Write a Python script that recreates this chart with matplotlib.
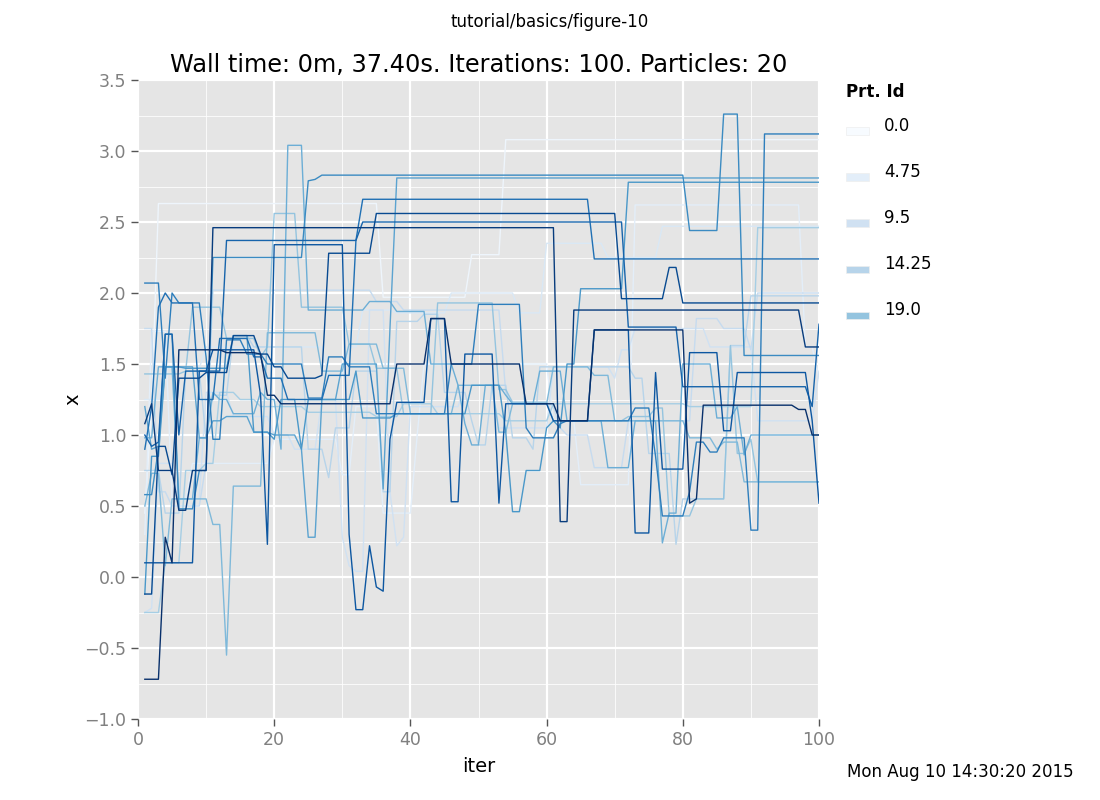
import numpy as np
import matplotlib.pyplot as plt
from matplotlib.ticker import MultipleLocator
from matplotlib.patches import Rectangle

# iterations 1..100, each particle given as (iter, x) change points (value held until next point)
iters = np.arange(1, 101)

prt_0 = [(1, 0.45), (2, 1.2), (3, 2.63), (35, 2.63), (36, 1.97), (48, 1.97), (49, 2.27), (53, 2.27),
         (54, 3.08), (100, 3.08)]
prt_1 = [(1, 0.3), (2, 1.73), (4, 1.73), (5, 0.55), (7, 0.55), (8, 0.8), (19, 0.8), (20, 0.97), (29, 0.97),
         (30, 0.72), (32, 1.2), (35, 1.2), (36, 0.45), (39, 0.45), (41, 1.0), (42, 1.5), (60, 1.5), (61, 1.1),
         (64, 1.1), (65, 0.65), (72, 0.65), (73, 2.62), (97, 2.62), (98, 1.62), (100, 1.4)]
prt_2 = [(1, 1.25), (3, 1.25), (4, 1.47), (9, 1.47), (10, 1.62), (27, 1.62), (28, 1.42), (30, 1.42),
         (31, 1.62), (33, 1.88), (37, 1.88), (38, 1.86), (45, 1.86), (46, 2.0), (54, 2.0), (56, 1.86),
         (59, 1.86), (60, 2.35), (68, 2.35), (69, 2.25), (76, 2.25), (77, 2.47), (100, 2.47)]
prt_3 = [(1, -0.25), (2, -0.22), (3, 0.8), (5, 0.8), (6, 0.55), (9, 0.55), (10, 1.3), (13, 1.3), (14, 1.13),
         (19, 1.13), (20, 1.0), (22, 1.0), (23, 0.9), (26, 0.9), (27, 1.25), (29, 1.25), (30, 0.28), (31, 0.08),
         (32, 0.04), (33, 0.04), (34, 1.88), (36, 1.88), (37, 0.6), (38, 0.22), (39, 0.28), (40, 1.2),
         (47, 1.2), (48, 1.35), (52, 1.35), (53, 1.05), (60, 1.05), (61, 1.48), (69, 1.48), (70, 1.4),
         (71, 1.6), (73, 1.75), (83, 1.75), (84, 1.62), (89, 1.62), (91, 1.1), (96, 1.1), (100, 1.45)]
prt_4 = [(1, 1.75), (2, 1.75), (3, 0.6), (4, 0.6), (5, 0.5), (9, 0.5), (10, 0.8), (11, 2.02), (33, 2.02),
         (35, 1.94), (38, 1.94), (39, 1.88), (53, 1.88), (54, 1.3), (55, 1.23), (60, 1.23), (61, 1.2),
         (62, 1.05), (63, 1.0), (66, 1.0), (67, 0.77), (70, 0.77), (72, 1.1), (81, 1.1), (82, 1.82),
         (85, 1.82), (86, 1.75), (89, 1.75), (90, 1.6), (91, 2.0), (100, 2.0)]
prt_5 = [(1, 0.75), (3, 0.75), (4, 0.45), (6, 0.45), (7, 1.45), (9, 1.45), (10, 0.97), (11, 1.28),
         (13, 1.28), (14, 1.7), (16, 1.7), (17, 1.62), (24, 1.62), (25, 0.9), (27, 0.9), (28, 0.7),
         (29, 1.05), (31, 1.05), (32, 1.45), (35, 1.45), (36, 0.6), (37, 0.6), (38, 1.8), (41, 1.8),
         (42, 1.85), (44, 1.85), (45, 1.3), (48, 1.3), (49, 1.1), (50, 0.93), (51, 0.93), (52, 1.35),
         (54, 1.35), (55, 0.98), (57, 0.98), (58, 0.9), (59, 1.48), (72, 1.48), (73, 1.4), (74, 1.4),
         (75, 0.87), (78, 0.87), (79, 0.23), (80, 0.55), (86, 0.55), (87, 1.63), (89, 1.63), (90, 1.98),
         (100, 1.98)]
prt_6 = [(1, -0.25), (3, -0.25), (4, 0.1), (6, 0.1), (7, 0.75), (9, 0.75), (10, 0.8), (11, 0.8), (12, 1.3),
         (14, 1.3), (15, 1.25), (17, 1.25), (18, 1.2), (24, 1.2), (25, 1.16), (34, 1.16), (35, 1.13),
         (38, 1.13), (39, 1.22), (43, 1.22), (44, 1.15), (53, 1.15), (54, 1.1), (60, 1.1), (61, 1.22),
         (80, 1.22), (81, 1.2), (90, 1.2), (91, 2.46), (100, 2.46)]
prt_7 = [(1, 1.43), (6, 1.43), (7, 1.45), (8, 1.9), (12, 1.9), (13, 1.68), (17, 1.68), (18, 1.55),
         (19, 1.62), (20, 2.56), (23, 2.56), (24, 1.9), (30, 1.9), (31, 1.64), (34, 1.64), (35, 1.47),
         (38, 1.47), (39, 1.15), (43, 1.15), (44, 1.93), (52, 1.93), (53, 1.32), (55, 1.23), (60, 1.23),
         (61, 1.1), (71, 1.1), (72, 1.13), (75, 1.13), (76, 1.19), (77, 1.19), (78, 0.43), (81, 0.43),
         (82, 0.55), (86, 0.55), (87, 1.63), (88, 0.87), (90, 0.97), (91, 0.67), (100, 0.67)]
prt_8 = [(1, 0.5), (2, 0.73), (3, 0.73), (4, 0.08), (5, 0.55), (10, 0.55), (11, 0.37), (12, 0.37),
         (13, -0.55), (14, 0.64), (18, 0.64), (19, 1.72), (26, 1.72), (27, 1.45), (30, 1.45), (31, 1.64),
         (35, 1.64), (36, 1.47), (39, 1.47), (40, 1.15), (46, 1.15), (47, 1.35), (52, 1.35), (53, 1.02),
         (54, 1.02), (55, 1.22), (60, 1.22), (61, 1.48), (66, 1.48), (67, 1.42), (69, 1.42), (70, 1.1),
         (80, 1.1), (81, 0.98), (84, 0.98), (85, 0.9), (86, 0.95), (88, 0.95), (89, 0.67), (100, 0.67)]
prt_9 = [(1, 0.98), (2, 0.98), (3, 1.48), (5, 1.48), (6, 0.55), (8, 0.55), (9, 0.98), (10, 0.98),
         (11, 1.3), (12, 1.25), (13, 1.25), (14, 1.15), (17, 1.15), (18, 1.3), (19, 1.25), (20, 1.25),
         (21, 0.9), (22, 3.04), (24, 3.04), (25, 1.88), (33, 1.88), (34, 1.94), (37, 1.94), (38, 1.87),
         (42, 1.87), (43, 1.5), (46, 1.5), (47, 1.35), (48, 1.08), (49, 0.93), (50, 0.93), (51, 1.35),
         (53, 1.35), (54, 1.28), (55, 1.22), (58, 1.22), (59, 1.45), (62, 1.45), (63, 1.1), (68, 1.1),
         (69, 0.77), (71, 0.77), (73, 1.1), (76, 1.1), (77, 0.24), (78, 0.45), (80, 1.5), (84, 1.5),
         (85, 1.12), (88, 1.2), (89, 0.86), (90, 1.0), (100, 1.0)]
prt_10 = [(1, 1.2), (2, 0.9), (3, 0.92), (4, 1.48), (8, 1.48), (9, 0.98), (10, 0.98), (11, 1.1), (12, 1.1),
          (13, 1.13), (16, 1.13), (17, 1.02), (19, 1.02), (20, 1.0), (24, 0.9), (25, 0.28), (26, 0.28),
          (27, 1.25), (29, 1.25), (30, 1.5), (35, 1.5), (36, 0.62), (37, 1.75), (38, 2.81), (100, 2.81)]
prt_11 = [(1, -0.12), (2, 0.85), (3, 0.85), (4, 1.48), (6, 1.48), (7, 1.47), (13, 1.47), (14, 1.7),
          (16, 1.7), (17, 1.02), (19, 1.02), (20, 0.97), (21, 1.25), (23, 1.25), (24, 0.9), (25, 1.25),
          (31, 1.25), (32, 1.45), (33, 1.12), (37, 1.12), (38, 1.15), (48, 1.15), (49, 1.35), (53, 1.35),
          (54, 1.02), (55, 0.46), (56, 0.46), (57, 0.75), (59, 0.75), (60, 1.05), (61, 1.1), (62, 1.05),
          (63, 1.5), (65, 2.03), (71, 2.03), (72, 2.78), (100, 2.78)]
prt_12 = [(1, 0.58), (3, 0.9), (4, 1.71), (5, 1.71), (6, 0.48), (8, 0.48), (9, 0.75), (10, 0.75),
          (11, 2.25), (24, 2.25), (25, 2.79), (26, 2.8), (27, 2.83), (80, 2.83), (81, 2.44), (85, 2.44),
          (86, 3.26), (88, 3.26), (89, 1.56), (100, 1.56)]
prt_13 = [(1, 2.07), (3, 2.07), (4, 1.4), (5, 2.0), (6, 1.93), (9, 1.93), (10, 1.55), (11, 0.97),
          (12, 0.97), (13, 1.67), (15, 1.67), (16, 1.57), (18, 1.57), (19, 1.5), (24, 1.5), (25, 1.26),
          (27, 1.26), (28, 1.55), (30, 1.55), (31, 1.48), (34, 1.48), (35, 1.15), (45, 1.15), (46, 1.5),
          (49, 1.5), (50, 1.92), (56, 1.92), (57, 1.05), (58, 0.98), (61, 0.98), (62, 1.08), (63, 1.1),
          (72, 1.1), (73, 1.19), (75, 1.19), (76, 0.85), (77, 0.43), (80, 0.43), (81, 0.6), (82, 0.95),
          (83, 0.95), (84, 0.88), (85, 0.88), (86, 0.98), (89, 0.98), (90, 0.33), (91, 0.33), (92, 3.12),
          (100, 3.12)]
prt_14 = [(1, 0.9), (2, 1.2), (3, 1.9), (4, 2.0), (5, 1.93), (8, 1.93), (9, 1.25), (11, 1.25), (12, 1.68),
          (16, 1.68), (17, 1.55), (18, 1.55), (19, 1.4), (21, 1.4), (22, 1.25), (27, 1.25), (28, 1.42),
          (31, 1.42), (32, 2.37), (33, 2.66), (66, 2.66), (67, 2.24), (100, 2.24)]
prt_15 = [(1, 1.0), (2, 0.92), (3, 0.95), (4, 1.71), (5, 1.71), (6, 1.0), (7, 1.45), (12, 1.45),
          (13, 2.37), (32, 2.37), (33, 2.5), (71, 2.5), (72, 1.76), (79, 1.76), (80, 1.34), (98, 1.34),
          (99, 1.2), (100, 1.78)]
prt_16 = [(1, 0.1), (8, 0.1), (9, 1.45), (10, 1.45), (11, 1.6), (17, 1.6), (18, 1.28), (19, 0.23),
          (20, 2.34), (30, 2.34), (31, 0.3), (32, -0.23), (33, -0.23), (34, 0.22), (35, -0.07), (36, -0.1),
          (37, 0.97), (38, 1.23), (41, 1.23), (43, 1.82), (45, 1.82), (46, 0.53), (47, 0.53), (48, 1.57),
          (52, 1.57), (53, 0.52), (54, 1.22), (60, 1.22), (61, 1.1), (66, 1.1), (67, 1.74), (72, 1.74),
          (73, 0.31), (75, 0.31), (76, 1.44), (77, 0.76), (80, 0.76), (81, 1.58), (85, 1.58), (86, 1.03),
          (87, 1.03), (88, 1.44), (98, 1.44), (99, 1.1), (100, 0.52)]
prt_17 = [(1, -0.12), (2, -0.12), (3, 0.92), (4, 0.92), (5, 0.72), (6, 1.4), (9, 1.4), (10, 1.44),
          (13, 1.44), (14, 1.7), (17, 1.7), (18, 1.57), (19, 1.57), (20, 1.48), (22, 1.4), (26, 1.4),
          (27, 1.42), (28, 2.28), (34, 2.28), (35, 2.56), (70, 2.56), (71, 1.96), (77, 1.96), (78, 2.18),
          (79, 2.18), (80, 1.93), (100, 1.93)]
prt_18 = [(1, 1.08), (2, 1.22), (3, 0.75), (5, 0.75), (6, 0.47), (7, 0.47), (8, 0.75), (10, 0.75),
          (11, 2.46), (61, 2.46), (62, 0.39), (63, 0.39), (64, 1.88), (97, 1.88), (98, 1.62), (100, 1.62)]
prt_19 = [(1, -0.72), (3, -0.72), (4, 0.28), (5, 0.1), (6, 1.6), (12, 1.6), (13, 1.58), (18, 1.57),
          (19, 1.28), (20, 1.28), (21, 1.22), (37, 1.22), (38, 1.5), (42, 1.5), (43, 1.82), (45, 1.82),
          (46, 1.5), (56, 1.5), (57, 1.22), (61, 1.22), (62, 1.1), (66, 1.1), (67, 1.74), (80, 1.74),
          (81, 0.52), (82, 0.55), (83, 1.21), (96, 1.21), (97, 1.18), (99, 1.0), (100, 1.0)]

paths = [prt_0, prt_1, prt_2, prt_3, prt_4, prt_5, prt_6, prt_7, prt_8, prt_9,
         prt_10, prt_11, prt_12, prt_13, prt_14, prt_15, prt_16, prt_17, prt_18, prt_19]

legend_labels = ['0.0', '4.75', '9.5', '14.25', '19.0']


def expand(pts):
    cx = np.array([p[0] for p in pts])
    cy = np.array([p[1] for p in pts])
    idx = np.searchsorted(cx, iters, side='right') - 1
    return cy[idx]


fig = plt.figure(figsize=(11, 8), dpi=100)
ax = fig.add_axes([138 / 1100, 1 - 719 / 800, (819 - 138) / 1100, (719 - 80) / 800])
ax.set_facecolor('#e5e5e5')

cmap = plt.cm.Blues
n = len(paths)
for i, pts in enumerate(paths):
    ax.plot(iters, expand(pts), color=cmap(0.05 + 0.95 * i / (n - 1)), lw=1.0)

ax.set_xlim(0, 100)
ax.set_ylim(-1.0, 3.5)
ax.xaxis.set_major_locator(MultipleLocator(20))
ax.xaxis.set_minor_locator(MultipleLocator(10))
ax.yaxis.set_major_locator(MultipleLocator(0.5))
ax.yaxis.set_minor_locator(MultipleLocator(0.25))
ax.set_axisbelow(True)
ax.grid(which='major', color='white', lw=1.6)
ax.grid(which='minor', color='white', lw=0.7, alpha=0.8)
for s in ax.spines.values():
    s.set_visible(False)
ax.tick_params(which='major', direction='out', length=5, width=1, color='#555555',
               labelcolor='#808080', labelsize=12.5)
ax.tick_params(which='minor', length=0)

ax.set_title('Wall time: 0m, 37.40s. Iterations: 100. Particles: 20', fontsize=17.3, pad=6)
ax.set_xlabel('iter', fontsize=14, labelpad=6)
ax.set_ylabel('x', fontsize=14, labelpad=1)

fig.text(0.5, 1 - 22 / 800, 'tutorial/basics/figure-10', ha='center', va='center', fontsize=12)
fig.text(847 / 1100, 1 - 772 / 800, 'Mon Aug 10 14:30:20 2015', va='center', fontsize=12)

# legend, drawn by hand like the original
fig.text(846 / 1100, 1 - 92 / 800, 'Prt. Id', weight='bold', va='center', fontsize=12)
leg_colors = cmap(np.linspace(0.0, 0.4, len(legend_labels)))
for k, lab in enumerate(legend_labels):
    yc = 131 + k * 46
    fig.patches.append(Rectangle((846 / 1100, 1 - (yc + 3.5) / 800), 23 / 1100, 7 / 800,
                                 transform=fig.transFigure, facecolor=leg_colors[k],
                                 edgecolor='#eeeeee', lw=0.5))
    fig.text(884 / 1100, 1 - (yc - 5) / 800, lab, va='center', fontsize=12)

fig.savefig('out.png', dpi=100)
